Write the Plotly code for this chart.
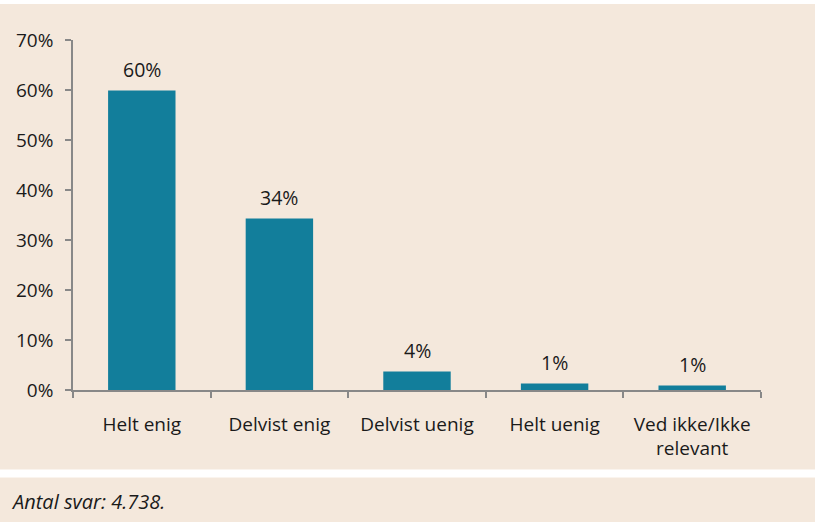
import plotly.graph_objects as go

categories = ["Helt enig", "Delvist enig", "Delvist uenig", "Helt uenig", "Ved ikke/Ikke<br>relevant"]
values = [59.9, 34.3, 3.7, 1.3, 0.9]
label_texts = ["60%", "34%", "4%", "1%", "1%"]
y_ticks = [0, 10, 20, 30, 40, 50, 60, 70]
y_tick_labels = ["0%", "10%", "20%", "30%", "40%", "50%", "60%", "70%"]
footer_text = "Antal svar: 4.738."

BEIGE = "#F4E8DC"
BAR = "#127E9B"
TXT = "#1a1a1a"
AXIS = "#888888"
FONT = "Open Sans"

W, H = 815, 522
ML, MR, MT, MB = 73, 54, 40, 131.5
plot_w = W - ML - MR
plot_h = H - MT - MB

def py(pix):
    return (H - MB - pix) / plot_h

def px(pix):
    return (pix - ML) / plot_w

fig = go.Figure()
fig.add_trace(go.Bar(
    x=categories, y=values, marker=dict(color=BAR, line=dict(width=0)),
    hoverinfo="skip",
))

for c, v, t in zip(categories, values, label_texts):
    fig.add_annotation(x=c, y=v, text=t, showarrow=False, yanchor="middle",
                       yshift=21, font=dict(family=FONT, size=19.5, color=TXT))

fig.add_annotation(xref="paper", yref="paper", x=px(9), y=py(502), text="<i>" + footer_text + "</i>",
                   showarrow=False, xanchor="left", yanchor="middle",
                   font=dict(family=FONT, size=20, color=TXT))

shapes = [
    dict(type="rect", xref="paper", yref="paper", x0=px(-5), x1=px(W + 5), y0=py(4), y1=py(-5),
         fillcolor="white", line=dict(width=0), layer="below"),
    dict(type="rect", xref="paper", yref="paper", x0=px(-5), x1=px(W + 5), y0=py(478), y1=py(470),
         fillcolor="white", line=dict(width=0), layer="below"),
]

fig.update_layout(
    width=W, height=H,
    margin=dict(l=ML, r=MR, t=MT, b=MB, pad=0),
    paper_bgcolor=BEIGE, plot_bgcolor=BEIGE,
    bargap=0.51,
    showlegend=False,
    shapes=shapes,
    font=dict(family=FONT, size=19, color=TXT),
    xaxis=dict(
        type="category", showgrid=False, zeroline=False,
        showline=True, linecolor=AXIS, linewidth=1.5,
        ticks="outside", tickson="boundaries", ticklen=6, tickcolor=AXIS, tickwidth=1.5,
        tickfont=dict(family=FONT, size=19, color=TXT),
        ticklabelstandoff=16,
    ),
    yaxis=dict(
        range=[0, 70], tickmode="array", tickvals=y_ticks, ticktext=y_tick_labels,
        showgrid=False, zeroline=False,
        showline=True, linecolor=AXIS, linewidth=1.5,
        ticks="outside", ticklen=6, tickcolor=AXIS, tickwidth=1.5,
        tickfont=dict(family=FONT, size=19, color=TXT),
        ticklabelstandoff=8,
    ),
)

fig.write_html("out.html", config={"displayModeBar": False},
               post_script="document.body.style.margin='0';document.body.style.padding='0';document.documentElement.style.overflow='hidden';")
